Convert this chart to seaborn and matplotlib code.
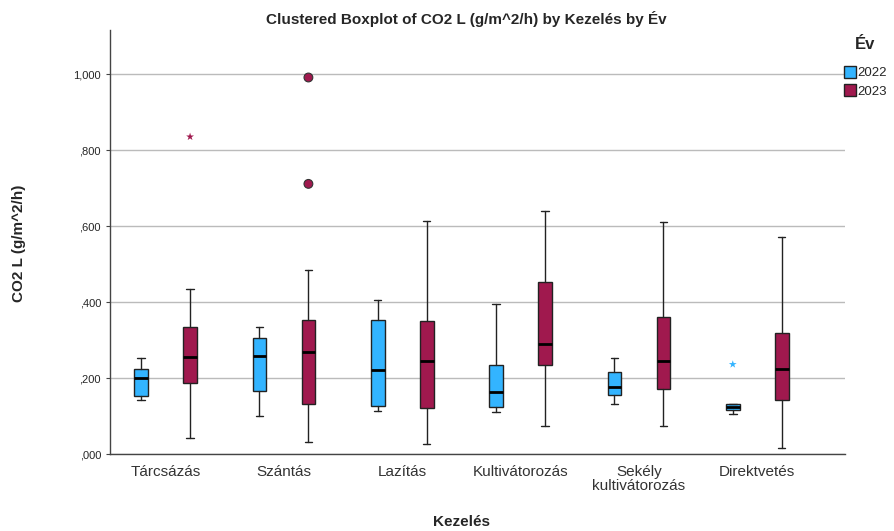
import numpy as np
import pandas as pd
import seaborn as sns
import matplotlib.pyplot as plt
from matplotlib.patches import Patch
from matplotlib.ticker import FuncFormatter

# Box statistics (g/m^2/h)
kezeles = ['Tárcsázás', 'Szántás', 'Lazítás', 'Kultivátorozás',
           'Sekély\nkultivátorozás', 'Direktvetés']
evek = ['2022', '2023']

# 2022
low_2022 = [0.141, 0.101, 0.114, 0.111, 0.132, 0.106]
q1_2022 = [0.152, 0.166, 0.126, 0.125, 0.154, 0.115]
med_2022 = [0.199, 0.259, 0.222, 0.162, 0.176, 0.124]
q3_2022 = [0.225, 0.306, 0.354, 0.234, 0.215, 0.132]
high_2022 = [0.252, 0.334, 0.406, 0.394, 0.254, 0.132]

# 2023
low_2023 = [0.043, 0.032, 0.026, 0.075, 0.075, 0.015]
q1_2023 = [0.186, 0.132, 0.120, 0.234, 0.171, 0.141]
med_2023 = [0.256, 0.268, 0.245, 0.290, 0.245, 0.224]
q3_2023 = [0.334, 0.354, 0.351, 0.453, 0.361, 0.319]
high_2023 = [0.434, 0.485, 0.613, 0.639, 0.611, 0.571]

# outliers: (category index, year, value)
outlier_cat = [1, 1]
outlier_ev = ['2023', '2023']
outlier_val = [0.991, 0.711]
extreme_cat = [0, 5]
extreme_ev = ['2023', '2022']
extreme_val = [0.835, 0.236]

colors = {'2022': '#33B4FF', '2023': '#A0194E'}

sns.set_style('white')
plt.rcParams['font.family'] = ['Arial', 'Liberation Sans', 'DejaVu Sans']

fig = plt.figure(figsize=(8.94, 5.31), dpi=100)
ax = fig.add_axes([0.123, 0.145, 0.822, 0.7985])

offset = 0.207
width = 0.115
stats_by_year = {
    '2022': (low_2022, q1_2022, med_2022, q3_2022, high_2022),
    '2023': (low_2023, q1_2023, med_2023, q3_2023, high_2023),
}
for j, ev in enumerate(evek):
    lo, q1, med, q3, hi = stats_by_year[ev]
    stats = [dict(whislo=lo[i], q1=q1[i], med=med[i], q3=q3[i], whishi=hi[i], fliers=[])
             for i in range(len(kezeles))]
    pos = np.arange(len(kezeles)) + (offset if j else -offset)
    ax.bxp(stats, positions=pos, widths=width, patch_artist=True, showfliers=False,
           boxprops=dict(facecolor=colors[ev], edgecolor='#222222', linewidth=1),
           medianprops=dict(color='black', linewidth=2),
           whiskerprops=dict(color='#222222', linewidth=1),
           capprops=dict(color='#222222', linewidth=1), capwidths=width * 0.55)

df_out = pd.DataFrame({'x': [c + (offset if e == '2023' else -offset) for c, e in zip(outlier_cat, outlier_ev)],
                       'y': outlier_val, 'ev': outlier_ev})
df_ext = pd.DataFrame({'x': [c + (offset if e == '2023' else -offset) for c, e in zip(extreme_cat, extreme_ev)],
                       'y': extreme_val, 'ev': extreme_ev})
sns.scatterplot(data=df_out, x='x', y='y', hue='ev', palette=colors, marker='o', s=40,
                edgecolor='#333333', linewidth=0.8, legend=False, ax=ax, zorder=5)
sns.scatterplot(data=df_ext, x='x', y='y', hue='ev', palette=colors, marker='*', s=35,
                edgecolor='none', legend=False, ax=ax, zorder=5)

ax.set_xlim(-0.47, 5.74)
ax.set_ylim(0, 1.116)
ax.set_yticks([0, 0.2, 0.4, 0.6, 0.8, 1.0])
ax.yaxis.set_major_formatter(FuncFormatter(lambda v, p: f'{v:,.3f}'.replace('0.', ',') if v < 1 else '1,000'))
ax.set_xticks(range(len(kezeles)))
ax.set_xticklabels(kezeles, fontsize=11, color='#333333', linespacing=1.0)
ax.tick_params(axis='y', labelsize=8, length=3, color='#444444', left=True)
ax.tick_params(axis='x', length=0, pad=8)
ax.grid(axis='y', color='#BBBBBB', linewidth=1)
ax.set_axisbelow(True)
for s in ['top', 'right']:
    ax.spines[s].set_visible(False)
for s in ['left', 'bottom']:
    ax.spines[s].set_color('#444444')
    ax.spines[s].set_linewidth(1)

ax.set_xlabel('')
ax.set_ylabel('')
fig.text(461 / 894, 1 - 522 / 531, 'Kezelés', ha='center', va='center',
         fontsize=11, fontweight='bold')
fig.text(19 / 894, 1 - 243 / 531, 'CO2 L (g/m^2/h)', ha='center', va='center',
         rotation=90, fontsize=11, fontweight='bold')
fig.text(0.522, 0.965, 'Clustered Boxplot of CO2 L (g/m^2/h) by Kezelés by Év',
         ha='center', va='center', fontsize=11, fontweight='bold')

handles = [Patch(facecolor=colors[e], edgecolor='#222222', label=e) for e in evek]
leg = fig.legend(handles=handles, title='Év', loc='upper left', bbox_to_anchor=(0.944, 0.93),
                 frameon=False, fontsize=9.5, handlelength=0.9, handleheight=1.0,
                 handletextpad=0.1, labelspacing=0.35, borderaxespad=0, borderpad=0)
leg.get_title().set_fontweight('bold')
leg.get_title().set_fontsize(12)
leg._legend_box.sep = 10

fig.savefig('out.png', dpi=100)
